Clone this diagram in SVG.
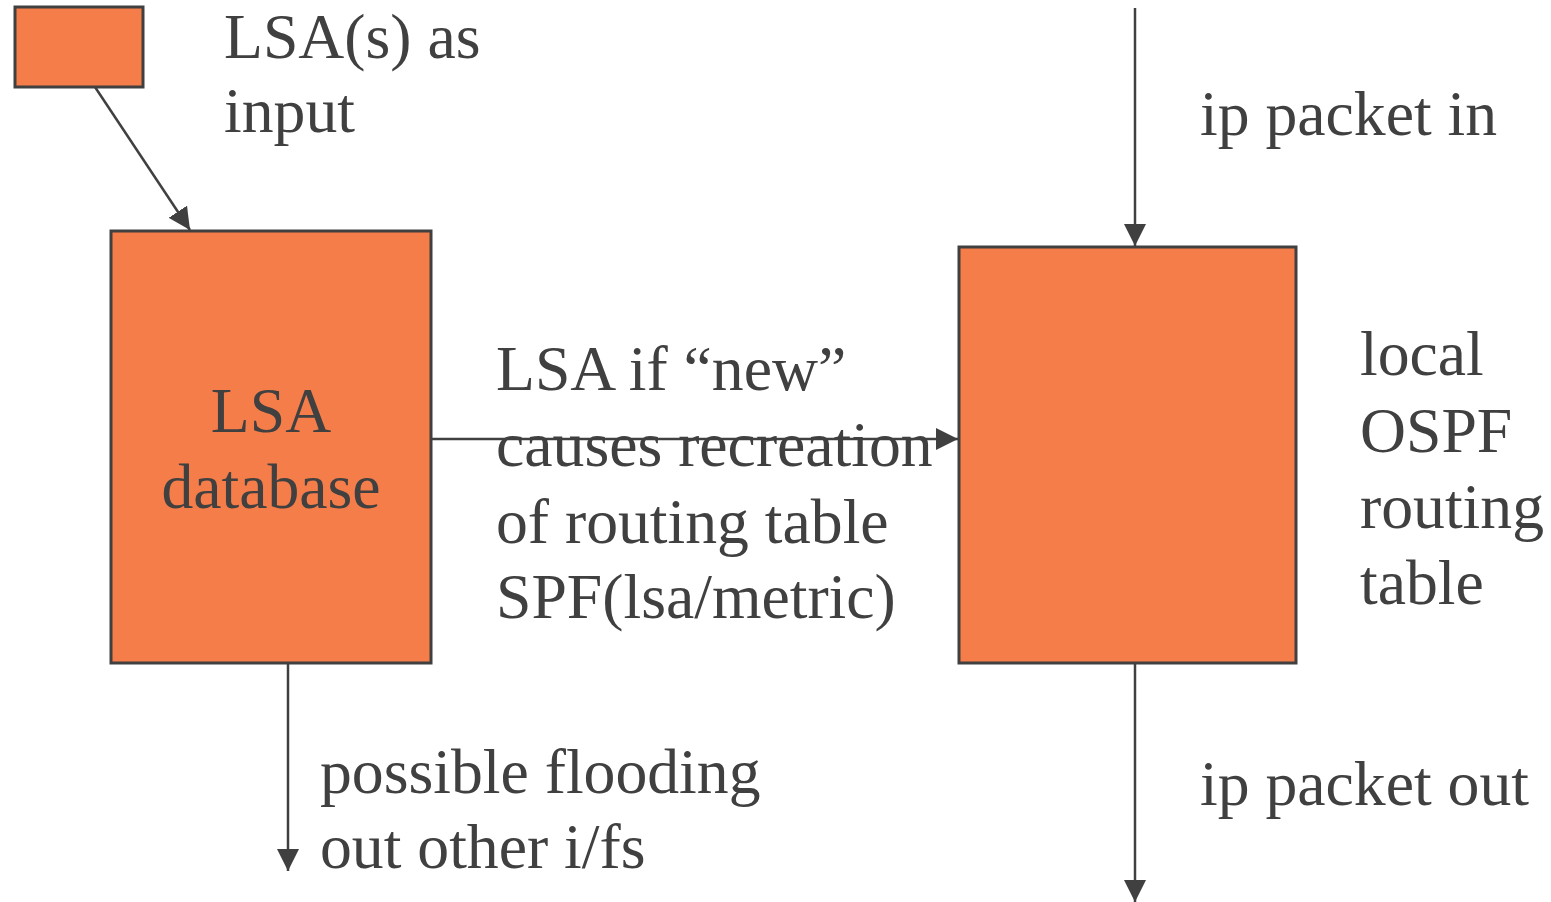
<svg xmlns="http://www.w3.org/2000/svg" width="1551" height="902" viewBox="0 0 1551 902">
  <style>
    .box { fill: #F57D4A; stroke: #404040; stroke-width: 3; }
    .conn { stroke: #404040; stroke-width: 2.5; fill: none; marker-end: url(#head); }
    text { font-family: "Liberation Serif", "Times New Roman", serif; font-size: 63.7px; fill: #404040; }
  </style>
  <defs>
    <marker id="head" viewBox="0 0 22 22" refX="22" refY="11" markerWidth="22" markerHeight="22" markerUnits="userSpaceOnUse" orient="auto">
      <path d="M0,0 L22,11 L0,22 Z" fill="#404040"/>
    </marker>
  </defs>

  <g id="lsa-input">
    <rect class="box" x="15" y="7" width="128" height="80"/>
    <text x="224" y="58">LSA(s) as</text>
    <text x="224" y="132">input</text>
  </g>

  <g id="lsa-database">
    <rect class="box" x="111" y="231" width="320" height="432"/>
    <text x="271" y="432" text-anchor="middle">LSA</text>
    <text x="271" y="508" text-anchor="middle">database</text>
  </g>

  <g id="routing-table">
    <rect class="box" x="959" y="247" width="337" height="416"/>
    <text x="1360" y="375">local</text>
    <text x="1360" y="452">OSPF</text>
    <text x="1360" y="528">routing</text>
    <text x="1360" y="604">table</text>
  </g>

  <g id="connectors">
    <line class="conn" x1="95" y1="87" x2="190" y2="230"/>
    <line class="conn" x1="431" y1="439" x2="958" y2="439"/>
    <line class="conn" x1="288" y1="663" x2="288" y2="871"/>
    <line class="conn" x1="1135" y1="8" x2="1135" y2="246"/>
    <line class="conn" x1="1135" y1="663" x2="1135" y2="902"/>
  </g>

  <g id="labels">
    <text x="496" y="390">LSA if “new”</text>
    <text x="496" y="466">causes recreation</text>
    <text x="496" y="543">of routing table</text>
    <text x="496" y="618">SPF(lsa/metric)</text>
    <text x="320" y="793">possible flooding</text>
    <text x="320" y="868">out other i/fs</text>
    <text x="1200" y="135">ip packet in</text>
    <text x="1200" y="805">ip packet out</text>
  </g>
</svg>
